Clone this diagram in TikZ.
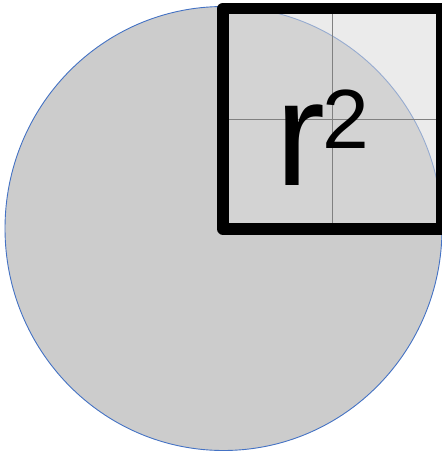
\documentclass[tikz,border=0pt]{standalone}
\usepackage{fontspec}
\setmainfont{Liberation Sans}
\begin{document}
\begin{tikzpicture}[x=1pt,y=-1pt,
  disc/.style={fill={rgb,255:red,204;green,204;blue,204}, draw={rgb,255:red,68;green,114;blue,196}, line width=0.9pt},
  sqfill/.style={fill={rgb,255:red,218;green,218;blue,218}, fill opacity=0.55},
  gridline/.style={draw={rgb,255:red,128;green,128;blue,128}, line width=1pt},
  frame/.style={draw=black, line width=11.5pt, line join=round},
  lbl/.style={inner sep=0pt, anchor=base west, text=black}]
\useasboundingbox (0,0) rectangle (442,456);
\path[disc] (223.5,228.5) ellipse [x radius=218.5pt, y radius=222pt];
\path[sqfill] (223,8.5) rectangle (442,229);
\draw[gridline] (332,8.5) -- (332,229);
\draw[gridline] (223,119) -- (442,119);
\node[lbl, font=\fontsize{150}{150}\selectfont] (r) at (275,185) {r};
\node[lbl, font=\fontsize{84}{84}\selectfont] (two) at (322.5,148) {2};
\draw[frame] (223,8.5) rectangle (442,229);
\end{tikzpicture}
\end{document}
